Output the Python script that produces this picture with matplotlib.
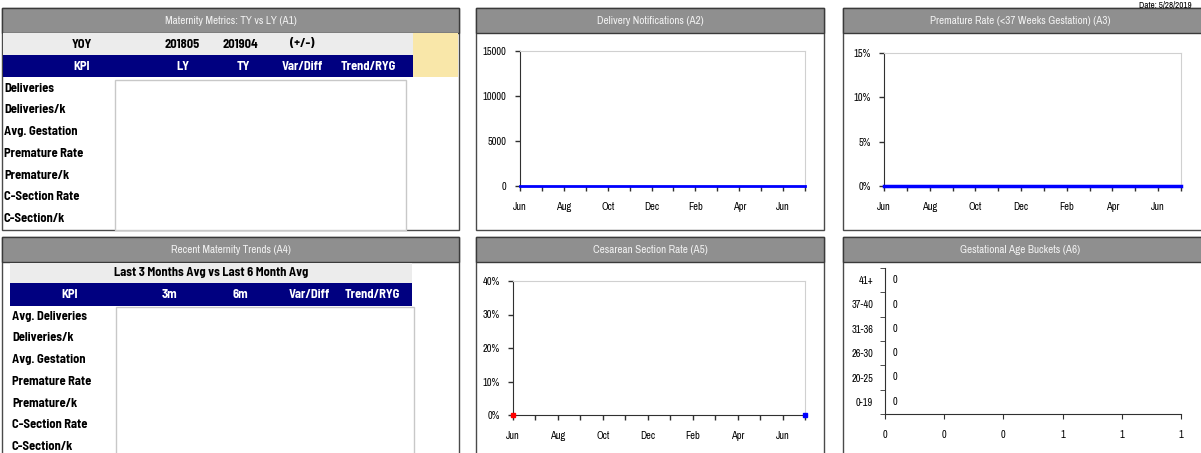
import matplotlib
matplotlib.use("Agg")
import matplotlib.pyplot as plt
from matplotlib.patches import Rectangle
import numpy as np

# ---- data ----
months = ["Jun", "Jul", "Aug", "Sep", "Oct", "Nov", "Dec",
          "Jan", "Feb", "Mar", "Apr", "May", "Jun", "Jul"]
deliveries = [0, 0, 0, 0, 0, 0, 0, 0, 0, 0, 0, 0, 0, 0]
premature_rate = [0, 0, 0, 0, 0, 0, 0, 0, 0, 0, 0, 0, 0, 0]
csection_ly = [0]          # first month
csection_ty = [0]          # last month
age_buckets = ["0-19", "20-25", "26-30", "31-36", "37-40", "41+"]
age_counts = [0, 0, 0, 0, 0, 0]

yoy_header = ["YOY", "201805", "201904", "(+/-)"]
a1_columns = ["KPI", "LY", "TY", "Var/Diff", "Trend/RYG"]
a1_rows = ["Deliveries", "Deliveries/k", "Avg. Gestation", "Premature Rate",
           "Premature/k", "C-Section Rate", "C-Section/k"]
a4_subtitle = "Last 3 Months Avg vs Last 6 Month Avg"
a4_columns = ["KPI", "3m", "6m", "Var/Diff", "Trend/RYG"]
a4_rows = ["Avg. Deliveries", "Deliveries/k", "Avg. Gestation", "Premature Rate",
           "Premature/k", "C-Section Rate", "C-Section/k"]
titles = ["Maternity Metrics: TY vs LY (A1)", "Delivery Notifications (A2)",
          "Premature Rate (<37 Weeks Gestation) (A3)", "Recent Maternity Trends (A4)",
          "Cesarean Section Rate (A5)", "Gestational Age Buckets (A6)"]
date_text = "Date: 5/28/2019"

# ---- fonts ----
TABLE_FONT = ["Barlow Semi Condensed", "DejaVu Sans"]
AXIS_FONT = ["Archivo Narrow", "DejaVu Sans"]
plt.rcParams["font.family"] = AXIS_FONT

# ---- layout helpers (pixel space) ----
W, H = 1201, 453
fig = plt.figure(figsize=(W / 100, H / 100), dpi=100)
fig.patch.set_facecolor("white")


def fx(x):
    return x / W


def fy(y):
    return 1 - y / H


def rect(x0, y0, x1, y1, fc, ec="none", lw=1.0, z=1):
    r = Rectangle((fx(x0), fy(y1)), fx(x1) - fx(x0), fy(y0) - fy(y1),
                  transform=fig.transFigure, facecolor=fc, edgecolor=ec,
                  linewidth=lw, zorder=z)
    fig.add_artist(r)


def cell(x, y, s, ha="center", color="black", size=9):
    fig.text(fx(x), fy(y), s, ha=ha, va="center", color=color, fontsize=size,
             fontweight="bold", fontstretch="condensed", family=TABLE_FONT,
             zorder=5)


def axes_px(x0, y0, x1, y1):
    return fig.add_axes([fx(x0), fy(y1), fx(x1) - fx(x0), fy(y0) - fy(y1)])


HEADER = "#8f8f8f"
NAVY = "#000080"
LIGHT = "#ececec"
YELLOW = "#f9e7a9"

# ---- panel frames and title bars ----
panels = [(2, 8, 459, 230), (476, 8, 824, 230), (843, 8, 1205, 230),
          (2, 237, 459, 460), (476, 237, 824, 460), (843, 237, 1205, 460)]
for (x0, y0, x1, y1), title in zip(panels, titles):
    rect(x0, y0, x1, y1, "white", "#4a4a4a", 1.0, z=1)
    rect(x0, y0, x1, y0 + 25, HEADER, "#3a3a3a", 1.0, z=2)
    xc = (x0 + x1) / 2 if x1 <= W else (x0 + W) / 2 - 2
    fig.text(fx(xc), fy(y0 + 12.5), title, ha="center", va="center",
             color="#f2f2f2", fontsize=8, zorder=5)

fig.text(fx(1192), fy(0.5), date_text, ha="right", va="top", fontsize=6.5,
         color="black")

# ---- A1 table ----
rect(3, 33, 413, 55, LIGHT, z=2)
rect(413, 33, 458, 77, YELLOW, z=2)
rect(3, 55, 413, 77, NAVY, z=2)
for s, x in zip(yoy_header, [82, 182, 240, 302]):
    cell(x, 44, s)
for s, x in zip(a1_columns, [82, 183, 243, 302, 368]):
    cell(x, 66, s, color="white")
rect(115, 80, 406, 230, "white", "#c8c8c8", 1.0, z=2)
for i, s in enumerate(a1_rows):
    cell(4, 88 + i * 21.8, s, ha="left")

# ---- A4 table ----
rect(10, 263, 412, 283, LIGHT, z=2)
rect(10, 283, 412, 306, NAVY, z=2)
cell(211, 273, a4_subtitle)
for s, x in zip(a4_columns, [70, 170, 240, 309, 372]):
    cell(x, 295, s, color="white")
rect(116, 307, 414, 460, "white", "#c8c8c8", 1.0, z=2)
for i, s in enumerate(a4_rows):
    cell(12, 316 + i * 21.8, s, ha="left")


# ---- monthly line charts ----
def style_month_axis(ax, ymax, yticks, fmt):
    x = np.arange(len(months))
    ax.set_xlim(0, len(months) - 1)
    ax.set_ylim(0, ymax)
    ax.set_xticks(x)
    ax.set_xticklabels([m if i % 2 == 0 else "" for i, m in enumerate(months)])
    ax.set_yticks(yticks)
    ax.set_yticklabels([fmt(v) for v in yticks])
    for sp in ["top", "right"]:
        ax.spines[sp].set_color("#d0d0d0")
    for sp in ["left", "bottom"]:
        ax.spines[sp].set_color("#303030")
    ax.tick_params(axis="both", direction="out", length=3.5, width=1,
                   color="#303030", labelsize=7.5, pad=6)
    ax.tick_params(axis="x", pad=8)
    ax.set_zorder(3)
    return x


ax2 = axes_px(520, 51, 805, 186)
x = style_month_axis(ax2, 15000, [0, 5000, 10000, 15000], lambda v: f"{v:.0f}")
ax2.plot(x, deliveries, color="#0000ff", lw=2, clip_on=False, zorder=4)

ax3 = axes_px(884, 53, 1181, 186)
x = style_month_axis(ax3, 0.15, [0, 0.05, 0.10, 0.15], lambda v: f"{v * 100:.0f}%")
ax3.plot(x, premature_rate, color="#0000ff", lw=2.5, clip_on=False, zorder=4)

ax5 = axes_px(513, 281, 805, 415)
x = style_month_axis(ax5, 0.40, [0, 0.1, 0.2, 0.3, 0.4], lambda v: f"{v * 100:.0f}%")
ax5.plot(x[:len(csection_ly)], csection_ly, "s", color="red", ms=2.5,
         clip_on=False, zorder=4)
ax5.plot(x[-len(csection_ty):], csection_ty, "s", color="blue", ms=2.5,
         clip_on=False, zorder=4)

# ---- gestational age buckets (horizontal bars) ----
ax6 = axes_px(885, 268, 1181, 414)
pos = np.arange(len(age_buckets))
ax6.barh(pos, age_counts, height=0.6, color="#4a6fb5")
xt = np.linspace(0, 1, 6)
ax6.set_xlim(0, 1)
ax6.set_ylim(-0.5, len(age_buckets) - 0.5)
ax6.set_xticks(xt)
ax6.set_xticklabels([f"{v:.0f}" for v in xt])
ax6.set_yticks(pos)
ax6.set_yticklabels(age_buckets)
ax6.set_yticks(np.arange(-0.5, len(age_buckets)), minor=True)
ax6.tick_params(axis="y", which="major", length=0, labelsize=7.5, pad=8.5)
ax6.tick_params(axis="y", which="minor", length=3.5, direction="out", color="#303030")
ax6.tick_params(axis="x", length=3.5, direction="out", color="#303030",
                labelsize=7.5, pad=8)
for sp in ["top", "right"]:
    ax6.spines[sp].set_visible(False)
for sp in ["left", "bottom"]:
    ax6.spines[sp].set_color("#303030")
for p, v in zip(pos, age_counts):
    ax6.text(v + 0.025, p, f"{v:.0f}", va="center", ha="left", fontsize=7.5)
ax6.set_zorder(3)

fig.savefig("out.png", dpi=100, facecolor="white")
